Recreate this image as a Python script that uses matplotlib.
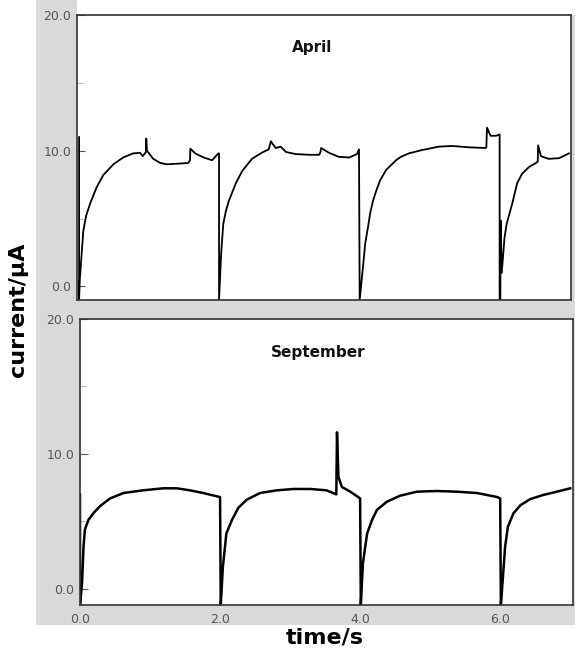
"""Chronoamperometry traces, April vs September."""

import matplotlib

matplotlib.use("Agg")
import matplotlib.pyplot as plt
from matplotlib.patches import Rectangle
from matplotlib.ticker import MultipleLocator

# April trace (time/s, current/uA)
april_t = [
    0.0, 0.0, 0.01, 0.06, 0.1, 0.157, 0.25, 0.345, 0.49, 0.63, 0.77, 0.87,
    0.91, 0.955, 0.96, 0.97, 1.06, 1.16, 1.25, 1.43, 1.56, 1.585, 1.59, 1.66,
    1.78, 1.9, 1.99, 2.0,
    2.0, 2.03, 2.06, 2.1, 2.14, 2.24, 2.33, 2.47, 2.61, 2.71, 2.74, 2.81,
    2.88, 2.96, 3.1, 3.29, 3.43, 3.45, 3.46, 3.57, 3.71, 3.86, 3.97, 4.0,
    4.01, 4.06, 4.09, 4.13, 4.16, 4.2, 4.25, 4.3, 4.39, 4.53, 4.6, 4.71,
    4.9, 5.14, 5.33, 5.57, 5.81, 5.82, 5.83, 5.88, 5.96, 6.01,
    6.01, 6.02, 6.025, 6.04, 6.08, 6.11, 6.19, 6.26, 6.33, 6.43, 6.53,
    6.555, 6.56, 6.6, 6.71, 6.86, 7.0,
]
april_i = [
    11.0, -1.0, 0.5, 4.1, 5.2, 6.1, 7.3, 8.2, 9.0, 9.5, 9.8, 9.85,
    9.6, 9.9, 10.9, 10.0, 9.4, 9.1, 9.0, 9.05, 9.1, 9.3, 10.15, 9.8,
    9.5, 9.3, 9.8, 9.8,
    -1.0, 2.4, 4.6, 5.6, 6.3, 7.6, 8.5, 9.4, 9.85, 10.1, 10.7, 10.2,
    10.3, 9.9, 9.75, 9.7, 9.7, 9.9, 10.2, 9.85, 9.55, 9.5, 9.75, 10.1,
    -1.0, 1.6, 3.2, 4.4, 5.4, 6.3, 7.1, 7.8, 8.6, 9.3, 9.55, 9.8,
    10.05, 10.3, 10.35, 10.25, 10.2, 10.25, 11.7, 11.1, 11.1, 11.2,
    -1.0, -1.0, 4.85, 1.0, 3.6, 4.6, 6.1, 7.6, 8.3, 8.8, 9.1,
    9.2, 10.4, 9.6, 9.4, 9.45, 9.8,
]

# September trace
sept_t = [
    0.0, 0.0, 0.03, 0.05, 0.07, 0.12, 0.19, 0.29, 0.43, 0.62, 0.9, 1.19,
    1.38, 1.57, 1.76, 2.0,
    2.01, 2.04, 2.09, 2.17, 2.26, 2.38, 2.57, 2.81, 3.05, 3.29, 3.52, 3.66,
    3.67, 3.69, 3.74, 3.86, 4.0,
    4.01, 4.04, 4.1, 4.17, 4.24, 4.38, 4.57, 4.81, 5.1, 5.38, 5.67, 5.96,
    6.0,
    6.01, 6.04, 6.07, 6.11, 6.19, 6.29, 6.43, 6.61, 6.81, 7.0,
]
sept_i = [
    7.0, -1.2, 0.5, 3.1, 4.4, 5.1, 5.6, 6.15, 6.7, 7.1, 7.3, 7.45,
    7.45, 7.3, 7.1, 6.8,
    -1.2, 1.6, 4.1, 5.1, 6.0, 6.6, 7.1, 7.3, 7.4, 7.4, 7.3, 7.0,
    11.6, 8.3, 7.55, 7.2, 6.7,
    -1.2, 1.9, 4.1, 5.1, 5.85, 6.45, 6.9, 7.2, 7.25, 7.2, 7.1, 6.8,
    6.7,
    -1.2, 0.9, 3.1, 4.6, 5.6, 6.2, 6.65, 6.95, 7.2, 7.45,
]

y_ticks = [0, 10, 20]
y_tick_labels = ["0.0", "10.0", "20.0"]
x_ticks = [0, 2, 4, 6]
x_tick_labels = ["0.0", "2.0", "4.0", "6.0"]

GRAY_BG = "#d9d9d9"
TICK_COLOR = "#555555"

W, H = 575, 652
fig = plt.figure(figsize=(W / 100, H / 100), dpi=100)
fig.patch.set_facecolor("white")

# background layer holding the grey frame, behind both panels
ax_bg = fig.add_axes([0, 0, 1, 1], zorder=-10)
ax_bg.set_xlim(0, W)
ax_bg.set_ylim(H, 0)
ax_bg.axis("off")
ax_bg.add_patch(Rectangle((36, 15), 539, 610, facecolor=GRAY_BG, edgecolor="none"))
ax_bg.add_patch(Rectangle((36, 0), 41, 15, facecolor=GRAY_BG, edgecolor="none"))

ax_top = fig.add_axes([77 / W, 1 - 300 / H, 494 / W, 285 / H])
ax_bot = fig.add_axes([80 / W, 1 - 605 / H, 493 / W, 286 / H])

ax_top.plot(april_t, april_i, color="black", lw=1.3)
ax_bot.plot(sept_t, sept_i, color="black", lw=1.8)

ax_top.set_xlim(-0.03, 7.03)
ax_top.set_ylim(-1.0, 20.0)
ax_bot.set_xlim(0.0, 7.04)
ax_bot.set_ylim(-1.2, 20.0)

for ax in (ax_top, ax_bot):
    ax.set_facecolor("white")
    ax.set_yticks(y_ticks)
    ax.set_yticklabels(y_tick_labels)
    ax.yaxis.set_minor_locator(MultipleLocator(5))
    ax.tick_params(axis="y", which="major", direction="in", length=6,
                   color=TICK_COLOR, labelcolor=TICK_COLOR, labelsize=9, pad=4)
    ax.tick_params(axis="y", which="minor", direction="in", length=4,
                   color="#aaaaaa")
    for spine in ax.spines.values():
        spine.set_color("#333333")
        spine.set_linewidth(1.2)

ax_top.set_xticks([])
ax_bot.set_xticks(x_ticks)
ax_bot.set_xticklabels(x_tick_labels)
ax_bot.tick_params(axis="x", length=0, labelcolor=TICK_COLOR, labelsize=9, pad=6)

ax_top.text(3.33, 17.6, "April", ha="center", va="center",
            fontsize=11, fontweight="bold", color="#111111")
ax_bot.text(3.4, 17.5, "September", ha="center", va="center",
            fontsize=11, fontweight="bold", color="#111111")

fig.text(0.032, 0.525, "current/\u03bcA", rotation=90, ha="center", va="center",
         fontsize=16, fontweight="bold")
fig.text(0.565, 0.022, "time/s", ha="center", va="center",
         fontsize=16, fontweight="bold")

fig.savefig("out.png", dpi=100)
